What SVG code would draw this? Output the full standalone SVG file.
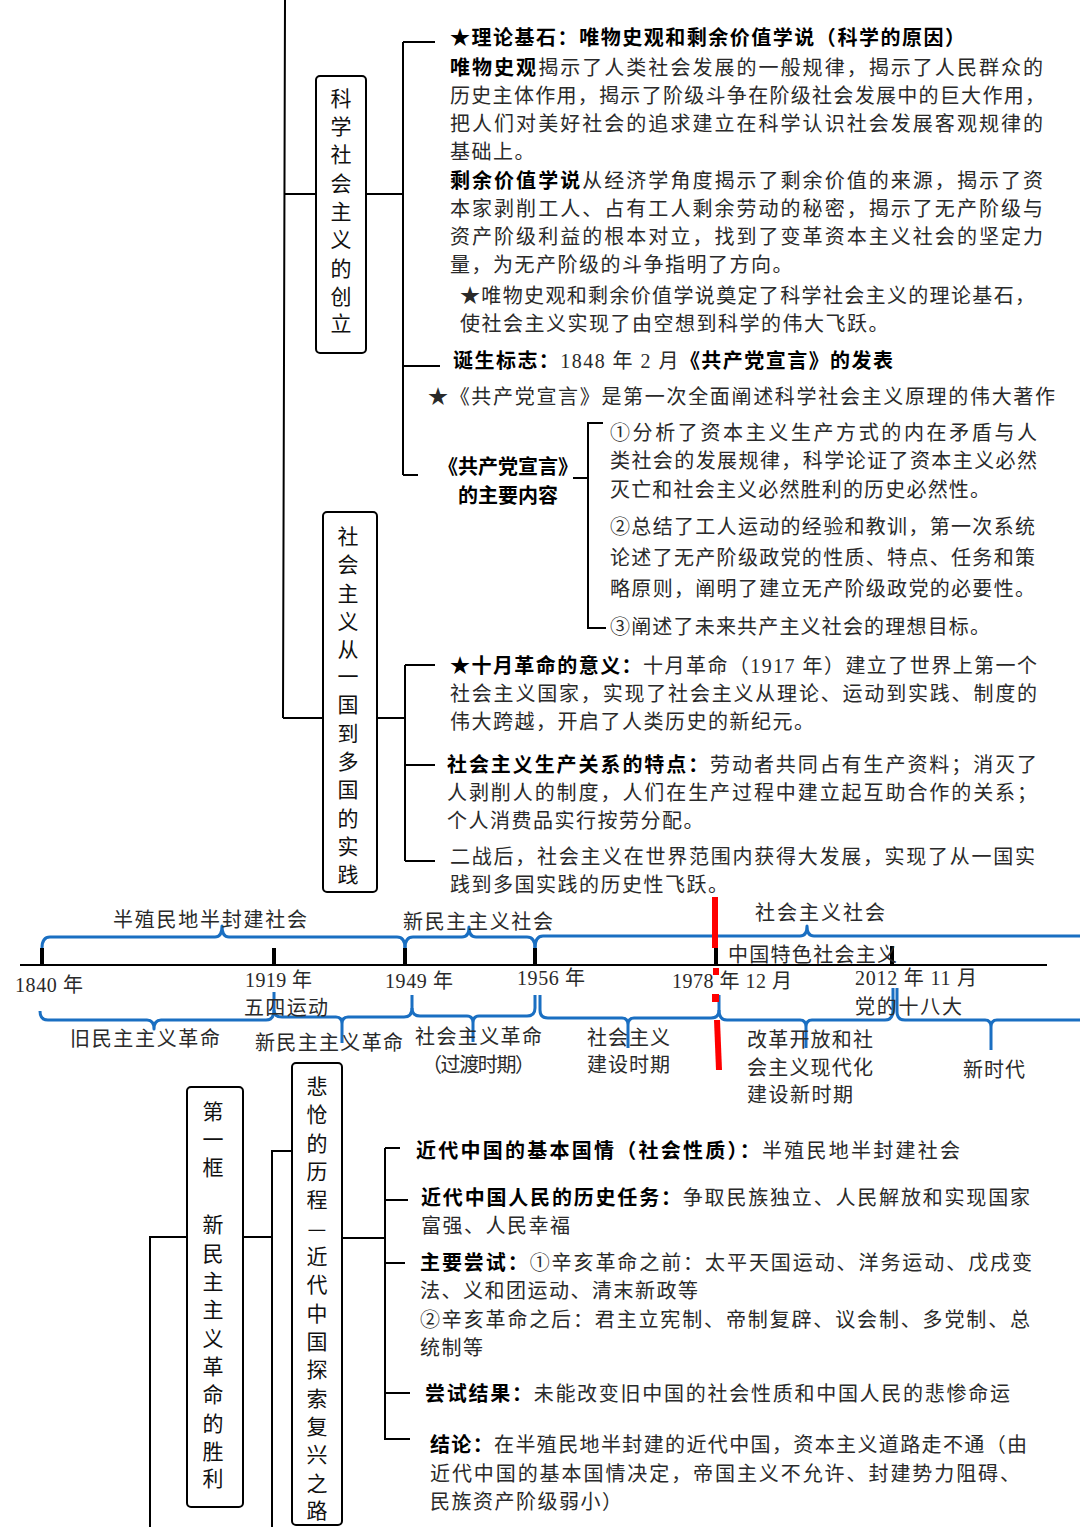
<svg xmlns="http://www.w3.org/2000/svg" width="1080" height="1527" viewBox="0 0 1080 1527">
<style>
.t{font-family:"Liberation Serif","Noto Sans CJK SC",serif;font-size:20px;fill:#2a2a2a}
.b{font-family:"Noto Sans CJK SC","Liberation Sans",sans-serif;font-weight:bold;fill:#000}
.sp{letter-spacing:1.5px}
.tl{font-family:"Liberation Serif","Noto Sans CJK SC",serif;font-size:20px;fill:#2a2a2a}
.v{font-family:"Noto Sans CJK SC","Liberation Sans",sans-serif;font-size:21px;fill:#111;text-anchor:middle;dominant-baseline:central}
.box{fill:#fff;stroke:#000;stroke-width:2}
.ln{stroke:#000;stroke-width:2;fill:none}
.bl{stroke:#1a6fc2;stroke-width:3;fill:none;stroke-linejoin:round}
</style>
<rect width="1080" height="1527" fill="#fff"/>

<g id="connectors">
<path class="ln" d="M285,0 L283,718 M285,194 H316 M366,194 H403 M403,42 V475 M403,42 H435 M403,366 H440 M403,475 H418"/>
<path class="ln" d="M283,718 H323 M377,718 H405 M405,665 V861 M405,665 H435 M405,765 H435 M405,861 H435"/>
<path class="ln" d="M573,478 H588 M603,423 H588 V628 H606"/>
<path class="ln" d="M150,1527 V1237 H187 M243,1237 H272 M272,1527 V1151 H292 M342,1238 H385 M385,1148 V1440 M385,1148 H400 M385,1200 H408 M385,1263 H405 M385,1393 H410 M385,1439 H410"/>
</g>

<g id="node-kexue">
<rect class="box" x="316" y="76" width="50" height="277" rx="4"/>
<text class="v" x="341" y="97">科</text><text class="v" x="341" y="125">学</text><text class="v" x="341" y="153">社</text><text class="v" x="341" y="182">会</text><text class="v" x="341" y="210">主</text><text class="v" x="341" y="238">义</text><text class="v" x="341" y="267">的</text><text class="v" x="341" y="295">创</text><text class="v" x="341" y="322">立</text>
</g>

<g id="node-kexue-content">
<text class="t b" x="450" y="45" textLength="515" lengthAdjust="spacing">★理论基石：唯物史观和剩余价值学说（科学的原因）</text>
<text class="t" x="450" y="75" textLength="593" lengthAdjust="spacing"><tspan class="b">唯物史观</tspan>揭示了人类社会发展的一般规律，揭示了人民群众的</text>
<text class="t" x="450" y="103" textLength="595" lengthAdjust="spacing">历史主体作用，揭示了阶级斗争在阶级社会发展中的巨大作用，</text>
<text class="t" x="450" y="131" textLength="593" lengthAdjust="spacing">把人们对美好社会的追求建立在科学认识社会发展客观规律的</text>
<text class="t sp" x="450" y="159">基础上。</text>
<text class="t" x="450" y="188" textLength="593" lengthAdjust="spacing"><tspan class="b">剩余价值学说</tspan>从经济学角度揭示了剩余价值的来源，揭示了资</text>
<text class="t" x="450" y="216" textLength="593" lengthAdjust="spacing">本家剥削工人、占有工人剩余劳动的秘密，揭示了无产阶级与</text>
<text class="t" x="450" y="244" textLength="593" lengthAdjust="spacing">资产阶级利益的根本对立，找到了变革资本主义社会的坚定力</text>
<text class="t sp" x="450" y="272">量，为无产阶级的斗争指明了方向。</text>
<text class="t" x="460" y="303" textLength="575" lengthAdjust="spacing">★唯物史观和剩余价值学说奠定了科学社会主义的理论基石，</text>
<text class="t sp" x="460" y="331">使社会主义实现了由空想到科学的伟大飞跃。</text>
<text class="t" x="453" y="368" textLength="440" lengthAdjust="spacing"><tspan class="b">诞生标志：</tspan>1848 年 2 月<tspan class="b">《共产党宣言》的发表</tspan></text>
<text class="t" x="428" y="404" textLength="627" lengthAdjust="spacing">★《共产党宣言》是第一次全面阐述科学社会主义原理的伟大著作</text>
</g>

<g id="node-manifesto">
<text class="t b" x="508" y="474" text-anchor="middle">《共产党宣言》</text>
<text class="t b" x="508" y="503" text-anchor="middle">的主要内容</text>
</g>

<g id="node-manifesto-items">
<text class="t" x="610" y="440" textLength="427" lengthAdjust="spacing">①分析了资本主义生产方式的内在矛盾与人</text>
<text class="t" x="610" y="468" textLength="427" lengthAdjust="spacing">类社会的发展规律，科学论证了资本主义必然</text>
<text class="t" x="610" y="497" textLength="380" lengthAdjust="spacing">灭亡和社会主义必然胜利的历史必然性。</text>
<text class="t" x="610" y="534" textLength="425" lengthAdjust="spacing">②总结了工人运动的经验和教训，第一次系统</text>
<text class="t" x="610" y="565" textLength="425" lengthAdjust="spacing">论述了无产阶级政党的性质、特点、任务和策</text>
<text class="t" x="610" y="596" textLength="425" lengthAdjust="spacing">略原则，阐明了建立无产阶级政党的必要性。</text>
<text class="t" x="610" y="634" textLength="380" lengthAdjust="spacing">③阐述了未来共产主义社会的理想目标。</text>
</g>

<g id="node-shijian">
<rect class="box" x="323" y="512" width="54" height="380" rx="4"/>
<text class="v" x="348" y="535">社</text><text class="v" x="348" y="563">会</text><text class="v" x="348" y="592">主</text><text class="v" x="348" y="620">义</text><text class="v" x="348" y="648">从</text><text class="v" x="348" y="675">一</text><text class="v" x="348" y="703">国</text><text class="v" x="348" y="732">到</text><text class="v" x="348" y="760">多</text><text class="v" x="348" y="788">国</text><text class="v" x="348" y="817">的</text><text class="v" x="348" y="845">实</text><text class="v" x="348" y="873">践</text>
</g>

<g id="node-shijian-content">
<text class="t" x="450" y="673" textLength="587" lengthAdjust="spacing"><tspan class="b">★十月革命的意义：</tspan>十月革命（1917 年）建立了世界上第一个</text>
<text class="t" x="450" y="701" textLength="587" lengthAdjust="spacing">社会主义国家，实现了社会主义从理论、运动到实践、制度的</text>
<text class="t sp" x="450" y="729">伟大跨越，开启了人类历史的新纪元。</text>
<text class="t" x="447" y="772" textLength="590" lengthAdjust="spacing"><tspan class="b">社会主义生产关系的特点：</tspan>劳动者共同占有生产资料；消灭了</text>
<text class="t" x="447" y="800" textLength="590" lengthAdjust="spacing">人剥削人的制度，人们在生产过程中建立起互助合作的关系；</text>
<text class="t sp" x="447" y="828">个人消费品实行按劳分配。</text>
<text class="t" x="450" y="864" textLength="585" lengthAdjust="spacing">二战后，社会主义在世界范围内获得大发展，实现了从一国实</text>
<text class="t sp" x="450" y="892">践到多国实践的历史性飞跃。</text>
</g>

<g id="timeline">
<line class="ln" x1="20" y1="965" x2="1047" y2="965"/>
<rect x="40" y="948" width="4" height="17"/>
<rect x="272" y="948" width="4" height="17"/>
<rect x="403" y="948" width="4" height="17"/>
<rect x="533" y="948" width="4" height="17"/>
<rect x="714" y="948" width="4" height="17"/>
<rect x="890" y="946" width="4" height="19"/>
<path class="bl" d="M42,948 Q42,937 50,937 H215 Q222,937 222,926 Q222,937 229,937 H397 Q405,937 405,948"/>
<path class="bl" d="M405,948 Q405,937 413,937 H462 Q469,937 469,927 Q469,937 476,937 H527 Q535,937 535,948"/>
<path class="bl" d="M535,948 Q535,936 543,936 H800 Q807,936 807,926 Q807,936 814,936 H1080"/>
<path class="bl" d="M40,1011 Q40,1020 48,1020 H147 Q154,1020 154,1029 Q154,1020 161,1020 H266 Q274,1020 274,1010 V992"/>
<path class="bl" d="M274,1010 Q274,1017 282,1017 H336 Q342,1017 342,1024 V1043 M342,1024 Q342,1017 348,1017 H404 Q412,1017 412,1008 V995"/>
<path class="bl" d="M412,1008 Q412,1016 420,1016 H467 Q473,1016 473,1023 V1042 M473,1023 Q473,1016 479,1016 H527 Q535,1016 535,1008 V995"/>
<path class="bl" d="M540,995 V1010 Q540,1018 548,1018 H622 Q628,1018 628,1025 V1048 M628,1025 Q628,1018 634,1018 H711 Q719,1018 719,1010 V995"/>
<path class="bl" d="M719,1010 Q719,1020 727,1020 H800 Q806,1020 806,1027 V1048 M806,1027 Q806,1020 812,1020 H885 Q893,1020 893,1010 V988"/>
<path class="bl" d="M897,988 V1012 Q897,1020 905,1020 H985 Q991,1020 991,1027 V1050 M991,1027 Q991,1020 997,1020 H1080"/>
<rect x="712" y="897" width="6" height="51" fill="#f00"/>
<rect x="713" y="968" width="6" height="7" fill="#f00"/>
<rect x="712" y="994" width="7" height="8" fill="#f00"/>
<polygon points="714,1020 720,1020 722,1070 716,1070" fill="#f00"/>
<text class="tl" x="113" y="927" textLength="194" lengthAdjust="spacing">半殖民地半封建社会</text>
<text class="tl" x="403" y="929" textLength="150" lengthAdjust="spacing">新民主主义社会</text>
<text class="tl" x="755" y="920" textLength="130" lengthAdjust="spacing">社会主义社会</text>
<text class="tl" x="728" y="962" textLength="169" lengthAdjust="spacing">中国特色社会主义</text>
<text class="tl" x="15" y="992" textLength="68" lengthAdjust="spacing">1840 年</text>
<text class="tl" x="245" y="987" textLength="67" lengthAdjust="spacing">1919 年</text>
<text class="tl" x="244" y="1015" textLength="84" lengthAdjust="spacing">五四运动</text>
<text class="tl" x="385" y="988" textLength="68" lengthAdjust="spacing">1949 年</text>
<text class="tl" x="517" y="985" textLength="68" lengthAdjust="spacing">1956 年</text>
<text class="tl" x="672" y="988" textLength="120" lengthAdjust="spacing">1978 年 12 月</text>
<text class="tl" x="855" y="985" textLength="122" lengthAdjust="spacing">2012 年 11 月</text>
<text class="tl" x="855" y="1014" textLength="107" lengthAdjust="spacing">党的十八大</text>
<text class="tl" x="70" y="1046" textLength="150" lengthAdjust="spacing">旧民主主义革命</text>
<text class="tl" x="255" y="1050" textLength="148" lengthAdjust="spacing">新民主主义革命</text>
<text class="tl" x="415" y="1044" textLength="127" lengthAdjust="spacing">社会主义革命</text>
<text class="tl" x="422" y="1072" textLength="113" lengthAdjust="spacing">（过渡时期）</text>
<text class="tl" x="587" y="1045" textLength="83" lengthAdjust="spacing">社会主义</text>
<text class="tl" x="587" y="1072" textLength="83" lengthAdjust="spacing">建设时期</text>
<text class="tl" x="747" y="1047" textLength="126" lengthAdjust="spacing">改革开放和社</text>
<text class="tl" x="747" y="1075" textLength="126" lengthAdjust="spacing">会主义现代化</text>
<text class="tl" x="747" y="1102" textLength="106" lengthAdjust="spacing">建设新时期</text>
<text class="tl" x="963" y="1077" textLength="62" lengthAdjust="spacing">新时代</text>
</g>

<g id="node-diyikuang">
<rect class="box" x="187" y="1087" width="56" height="420" rx="4"/>
<text class="v" x="213" y="1110">第</text><text class="v" x="213" y="1138">一</text><text class="v" x="213" y="1166">框</text><text class="v" x="213" y="1223">新</text><text class="v" x="213" y="1252">民</text><text class="v" x="213" y="1280">主</text><text class="v" x="213" y="1308">主</text><text class="v" x="213" y="1337">义</text><text class="v" x="213" y="1365">革</text><text class="v" x="213" y="1393">命</text><text class="v" x="213" y="1422">的</text><text class="v" x="213" y="1450">胜</text><text class="v" x="213" y="1477">利</text>
</g>

<g id="node-beichuang">
<rect class="box" x="292" y="1063" width="50" height="462" rx="4"/>
<text class="v" x="317" y="1085">悲</text><text class="v" x="317" y="1113">怆</text><text class="v" x="317" y="1142">的</text><text class="v" x="317" y="1170">历</text><text class="v" x="317" y="1198">程</text><text class="v" x="317" y="1227">—</text><text class="v" x="317" y="1255">近</text><text class="v" x="317" y="1283">代</text><text class="v" x="317" y="1312">中</text><text class="v" x="317" y="1340">国</text><text class="v" x="317" y="1368">探</text><text class="v" x="317" y="1397">索</text><text class="v" x="317" y="1425">复</text><text class="v" x="317" y="1453">兴</text><text class="v" x="317" y="1482">之</text><text class="v" x="317" y="1509">路</text>
</g>

<g id="node-beichuang-content">
<text class="t" x="416" y="1158" textLength="544" lengthAdjust="spacing"><tspan class="b">近代中国的基本国情（社会性质）：</tspan>半殖民地半封建社会</text>
<text class="t" x="421" y="1205" textLength="609" lengthAdjust="spacing"><tspan class="b">近代中国人民的历史任务：</tspan>争取民族独立、人民解放和实现国家</text>
<text class="t sp" x="421" y="1233">富强、人民幸福</text>
<text class="t" x="420" y="1270" textLength="612" lengthAdjust="spacing"><tspan class="b">主要尝试：</tspan>①辛亥革命之前：太平天国运动、洋务运动、戊戌变</text>
<text class="t sp" x="420" y="1298">法、义和团运动、清末新政等</text>
<text class="t" x="420" y="1327" textLength="610" lengthAdjust="spacing">②辛亥革命之后：君主立宪制、帝制复辟、议会制、多党制、总</text>
<text class="t sp" x="420" y="1355">统制等</text>
<text class="t" x="425" y="1401" textLength="585" lengthAdjust="spacing"><tspan class="b">尝试结果：</tspan>未能改变旧中国的社会性质和中国人民的悲惨命运</text>
<text class="t" x="430" y="1452" textLength="597" lengthAdjust="spacing"><tspan class="b">结论：</tspan>在半殖民地半封建的近代中国，资本主义道路走不通（由</text>
<text class="t" x="430" y="1481" textLength="590" lengthAdjust="spacing">近代中国的基本国情决定，帝国主义不允许、封建势力阻碍、</text>
<text class="t sp" x="430" y="1509">民族资产阶级弱小）</text>
</g>
</svg>
